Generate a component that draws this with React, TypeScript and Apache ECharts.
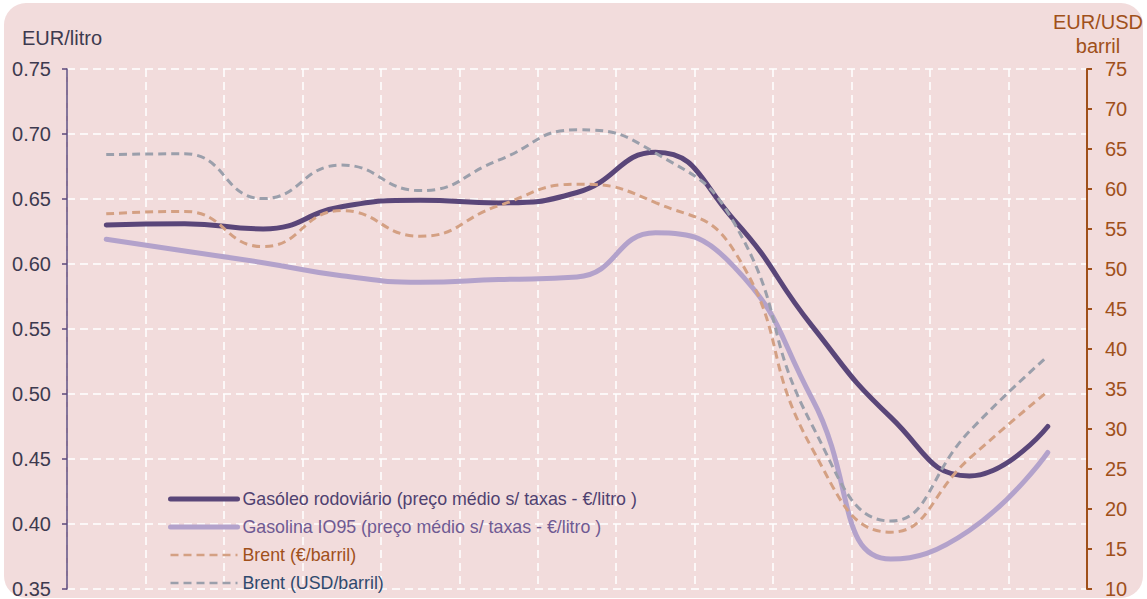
import React, { useEffect, useRef } from "react";
import * as echarts from "echarts";

const categories = ["jun", "jul", "ago", "set", "out", "nov", "dez", "jan", "fev", "mar", "abr", "mai", "jun "];
const gasoleo = [0.630, 0.631, 0.627, 0.644, 0.649, 0.647, 0.655, 0.686, 0.634, 0.552, 0.482, 0.437, 0.475];
const gasolina = [0.619, 0.610, 0.601, 0.591, 0.586, 0.588, 0.590, 0.624, 0.598, 0.496, 0.373, 0.395, 0.455];
const brentEur = [56.9, 57.2, 52.8, 57.3, 54.1, 57.9, 60.6, 58.3, 52.3, 27.5, 17.1, 26.3, 34.7];
const brentUsd = [64.3, 64.4, 58.8, 63.0, 59.8, 63.6, 67.4, 64.5, 55.8, 30.4, 18.5, 29.7, 39.1];

const names = [
  "Gasóleo rodoviário (preço médio s/ taxas - €/litro )",
  "Gasolina IO95 (preço médio s/ taxas - €/litro )",
  "Brent (€/barril)",
  "Brent (USD/barril)",
];

const FONT = "Liberation Sans, Arial, sans-serif";

export default function App() {
  const ref = useRef<HTMLDivElement>(null);
  useEffect(() => {
    if (!ref.current) return;
    const chart = echarts.init(ref.current, null, { renderer: "svg" });
    chart.setOption({
      animation: false,
      backgroundColor: "transparent",
      textStyle: { fontFamily: FONT },
      grid: { left: 67, right: 60, top: 69, bottom: 8, containLabel: false },
      graphic: [
        {
          type: "text",
          x: 22,
          y: 38,
          style: { text: "EUR/litro", fill: "#3d3a4f", font: `20px ${FONT}`, verticalAlign: "middle" },
        },
        {
          type: "text",
          x: 1098,
          y: 22,
          style: { text: "EUR/USD", fill: "#a0501a", font: `20px ${FONT}`, align: "center", verticalAlign: "middle" },
        },
        {
          type: "text",
          x: 1098,
          y: 46,
          style: { text: "barril", fill: "#a0501a", font: `20px ${FONT}`, align: "center", verticalAlign: "middle" },
        },
      ],
      legend: {
        orient: "vertical",
        left: 168,
        top: 490,
        height: 200,
        padding: 0,
        itemWidth: 67,
        itemHeight: 14,
        itemGap: 10,
        itemStyle: { opacity: 0, borderWidth: 0 },
        textStyle: { fontSize: 17.8, fontFamily: FONT, lineHeight: 14 },
        data: [
          { name: names[0], textStyle: { color: "#4f4170" }, lineStyle: { width: 5 } },
          { name: names[1], textStyle: { color: "#6f5a93" }, lineStyle: { width: 5 } },
          { name: names[2], textStyle: { color: "#a0501a" }, lineStyle: { width: 2.5 } },
          { name: names[3], textStyle: { color: "#2f4a6e" }, lineStyle: { width: 2.5 } },
        ],
      },
      xAxis: {
        type: "category",
        data: categories,
        boundaryGap: true,
        axisLine: { show: false },
        axisTick: { show: false },
        axisLabel: { show: false },
        splitLine: {
          show: true,
          interval: 0,
          lineStyle: { color: "#ffffff", type: [8, 5], width: 1.5 },
        },
      },
      yAxis: [
        {
          type: "value",
          min: 0.35,
          max: 0.75,
          interval: 0.05,
          position: "left",
          axisLine: { show: true, lineStyle: { color: "#5c4a7d", width: 1.5 } },
          axisTick: { show: true, length: 5, lineStyle: { color: "#5c4a7d", width: 1.5 } },
          axisLabel: {
            color: "#3d3a4f",
            fontSize: 20,
            margin: 16,
            formatter: (v: number) => v.toFixed(2),
          },
          splitLine: { show: true, lineStyle: { color: "#ffffff", type: [8, 5], width: 1.5 } },
        },
        {
          type: "value",
          min: 10,
          max: 75,
          interval: 5,
          position: "right",
          axisLine: { show: true, lineStyle: { color: "#a0501a", width: 2 } },
          axisTick: { show: true, length: 5, lineStyle: { color: "#a0501a", width: 2 } },
          axisLabel: { color: "#a0501a", fontSize: 20, margin: 18 },
          splitLine: { show: false },
        },
      ],
      series: [
        {
          name: names[0],
          type: "line",
          yAxisIndex: 0,
          data: gasoleo,
          smooth: 0.5,
          symbol: "none",
          lineStyle: { color: "#5a4679", width: 5, cap: "round" },
          itemStyle: { color: "#5a4679" },
        },
        {
          name: names[1],
          type: "line",
          yAxisIndex: 0,
          data: gasolina,
          smooth: 0.5,
          symbol: "none",
          lineStyle: { color: "#b3a2cb", width: 5, cap: "round" },
          itemStyle: { color: "#b3a2cb" },
        },
        {
          name: names[2],
          type: "line",
          yAxisIndex: 1,
          data: brentEur,
          smooth: 0.5,
          symbol: "none",
          lineStyle: { color: "#d4a083", width: 3, type: [8, 5] },
          itemStyle: { color: "#d4a083" },
        },
        {
          name: names[3],
          type: "line",
          yAxisIndex: 1,
          data: brentUsd,
          smooth: 0.5,
          symbol: "none",
          lineStyle: { color: "#9b9fab", width: 3, type: [8, 5] },
          itemStyle: { color: "#9b9fab" },
        },
      ],
    });
    return () => chart.dispose();
  }, []);

  return (
    <div style={{ position: "fixed", left: 0, top: 0, width: 1147, height: 599, background: "#ffffff" }}>
      <div
        style={{
          position: "absolute",
          left: 4,
          top: 3,
          width: 1139,
          height: 595,
          borderRadius: 22,
          background: "#f2dcdc",
        }}
      />
      <div ref={ref} style={{ position: "absolute", left: 0, top: 0, width: 1147, height: 599 }} />
    </div>
  );
}
